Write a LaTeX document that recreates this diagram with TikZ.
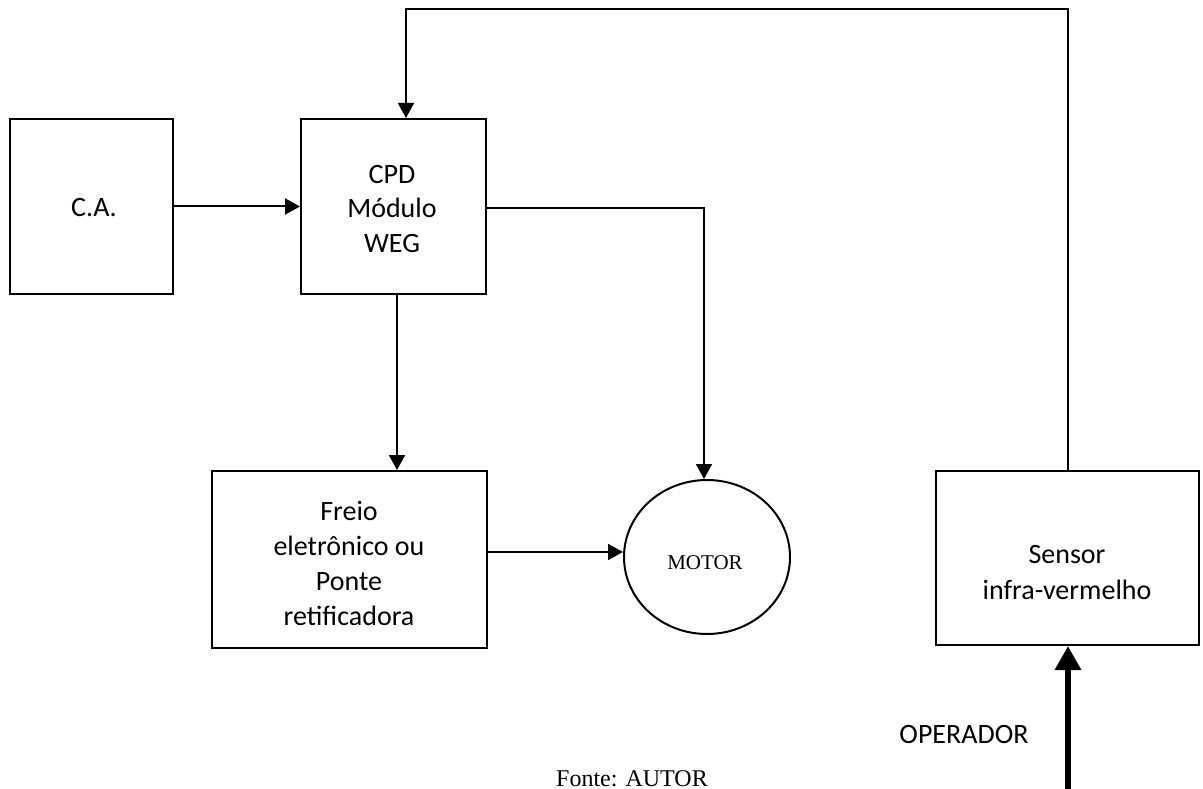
\documentclass[tikz,border=0pt]{standalone}
\usepackage{fontspec}
\setmainfont{Carlito}
\newfontfamily\tnr{Liberation Serif}
\usetikzlibrary{arrows.meta,shapes.geometric,calc}
\begin{document}
\begin{tikzpicture}[x=1pt,y=-1pt,
  box/.style={draw,line width=2pt,rectangle,inner sep=0pt},
  txt/.style={align=center,inner sep=0pt,font=\fontsize{28}{35}\selectfont},
  arr/.style={line width=2pt,-{Triangle[length=15pt,width=16pt]}},
  ln/.style={line width=2pt},
  thick arr/.style={line width=6.5pt,-{Triangle[length=24pt,width=25pt]}}]
\fill[white] (0,0) rectangle (1203,789);
\useasboundingbox (0,0) rectangle (1203,789);

% boxes
\node[box,minimum width=163pt,minimum height=175pt] (ca) at (91.5,206.5) {};
\node[box,minimum width=185pt,minimum height=175pt] (cpd) at (393.5,206.5) {};
\node[box,minimum width=275pt,minimum height=177pt] (freio) at (349.5,559.5) {};
\node[box,minimum width=263pt,minimum height=174pt] (sensor) at (1067.5,558) {};
\node[draw,line width=2pt,ellipse,minimum width=166pt,minimum height=154pt,inner sep=0pt] (motor) at (707,557) {};

% texts
\node[txt] (tca) at (94,208) {C.A.};
\node[txt,font=\fontsize{28}{34.5}\selectfont] (tcpd) at (392,209) {CPD\\Módulo\\WEG};
\node[txt] (tfreio) at (349,563) {Freio\\eletrônico ou\\Ponte\\retificadora};
\node[txt,font=\fontsize{28}{36}\selectfont] (tsensor) at (1067,573) {Sensor\\infra-vermelho};
\node[inner sep=0pt,font=\tnr\fontsize{21}{25}\selectfont] (tmotor) at (705,563) {MOTOR};
\node[txt] (top) at (964,735) {OPERADOR};
\node[inner sep=0pt,anchor=base,font=\tnr\fontsize{24}{28}\selectfont] (tfonte) at (632,786) {Fonte: AUTOR};

% connectors
\draw[arr] (ca.east) -- (cpd.west);
\coordinate (fbTop) at (406,9);
\draw[arr] (sensor.north) |- (fbTop) -- (fbTop |- cpd.north);
\coordinate (m1) at (704,208);
\draw[arr] (cpd.east |- m1) -- (m1) -- (m1 |- motor.north);
\coordinate (d1) at (397,294);
\draw[arr] (d1 |- cpd.south) -- (d1 |- freio.north);
\coordinate (f1) at (487,552);
\draw[arr] (f1) -- (f1 -| motor.west);
\coordinate (opStart) at (1068,800);
\draw[thick arr] (opStart) -- (opStart |- sensor.south);
\end{tikzpicture}
\end{document}
